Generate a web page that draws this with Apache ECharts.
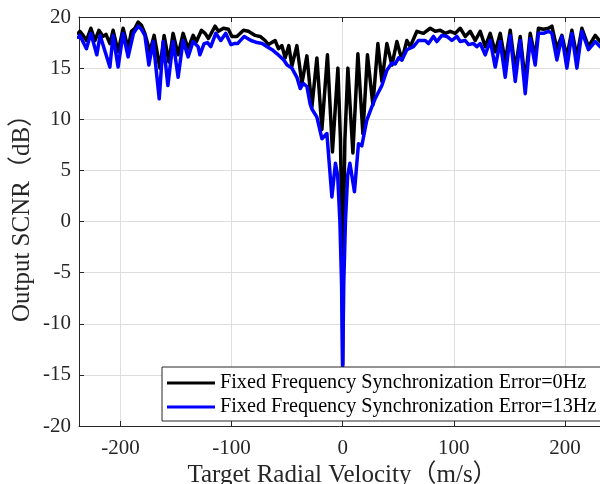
<!DOCTYPE html>
<html>
<head>
<meta charset="utf-8">
<title>Output SCNR vs Target Radial Velocity</title>
<script src="https://cdn.jsdelivr.net/npm/echarts@6/dist/echarts.min.js"></script>
<style>
  html, body { margin: 0; padding: 0; background: #ffffff; }
  #chart { width: 600px; height: 484px; }
</style>
</head>
<body>
<div id="chart"></div>
<script>
// Series labels
const seriesNames = [
  'Fixed Frequency Synchronization Error=0Hz',
  'Fixed Frequency Synchronization Error=13Hz'
];

// 0 Hz synchronization error: velocity (m/s) and output SCNR (dB)
const velocity0Hz = [
  -238, -236.5, -233.6, -230.6, -226.6, -223, -219.4, -215.6, -213, -209.5,
  -206.6, -202.1, -197.6, -193.1, -190.1, -187, -184.1, -181.1, -178, -173.5,
  -169.7, -164.5, -160.7, -156.4, -152.6, -148.1, -143.6, -139.1, -134.6, -131.6,
  -127.1, -123.8, -120.8, -114.8, -111.8, -107.3, -102.8, -99.7, -95.2, -89.3,
  -84.8, -78.8, -74.3, -69.8, -66.8, -60.8, -57.8, -54.7, -51.8, -48.5,
  -45.7, -41.2, -36.7, -32.2, -27.7, -23.2, -18.7, -13.7, -9.2, -4.3,
  -2, -0.8, 0, 0.8, 2, 4.7, 9.2, 13.7, 18.2, 22.3,
  27.2, 31.7, 35.3, 39.8, 44.3, 48.8, 53.3, 57.8, 60.8, 66.8,
  72.7, 78.8, 83.3, 87.8, 92.3, 96.8, 101.3, 105.8, 110.3, 114.8,
  119.3, 123.8, 128.3, 132.8, 137.3, 141.8, 146.3, 150.8, 155.3, 159.8,
  164.3, 168.8, 173.3, 176.2, 180.7, 185.2, 188.3, 192.8, 197.3, 201.8,
  206.3, 210.8, 215.3, 221.2, 227.3, 231.8, 234
];
const scnr0Hz = [
  18.4, 18.6, 18.2, 17.7, 18.9, 17.7, 18.7, 18.1, 18.3, 17.4,
  18.7, 16.6, 18.9, 16.9, 18.6, 18.9, 19.5, 19.2, 18.4, 16.6,
  18.2, 15.0, 18.2, 15.6, 18.4, 16.3, 18.4, 16.9, 18.2, 17.6,
  18.7, 18.4, 17.9, 19.1, 18.6, 18.9, 18.8, 18.1, 18.1, 18.7,
  18.6, 18.2, 18.1, 17.7, 17.3, 17.7, 16.9, 17.2, 16.0, 17.2,
  15.2, 17.2, 13.5, 16.2, 11.2, 16.0, 9.0, 16.3, 6.8, 15.0,
  8.0, 0.0, -14.0, 0.0, 8.0, 15.0, 6.7, 16.4, 8.6, 16.3,
  11.4, 17.4, 13.7, 17.4, 15.3, 17.6, 15.8, 17.7, 17.1, 18.6,
  18.4, 18.9, 18.6, 18.7, 18.4, 18.6, 18.4, 18.9, 18.1, 18.6,
  17.7, 18.6, 17.1, 18.4, 16.6, 18.4, 15.6, 18.7, 14.8, 18.1,
  13.7, 18.4, 16.0, 18.9, 18.8, 18.9, 19.1, 16.9, 18.2, 16.1,
  18.7, 16.1, 18.9, 17.1, 18.2, 17.6, 18.0
];

// 13 Hz synchronization error: velocity (m/s) and output SCNR (dB)
const velocity13Hz = [
  -238, -236.5, -230.6, -226.6, -221.3, -218.3, -209.5, -206.6, -202.1, -197.6,
  -193.1, -188.3, -184.1, -181.1, -178, -174.4, -170.5, -165.1, -161.5, -157.3,
  -152.6, -148.1, -143.6, -139.1, -134.6, -130.1, -128.5, -124.7, -121.7, -118.7,
  -114.2, -109.7, -105.2, -100.6, -97.6, -94.6, -88.6, -82.5, -77, -72.5,
  -68, -63.5, -59, -53, -50, -45.7, -41.2, -38.2, -35.5, -32.2,
  -29.3, -27.7, -23.2, -18.7, -14.2, -9.7, -6.5, -4.5, -2.5, -1,
  0, 1, 2.5, 4.5, 6.5, 10.6, 14.2, 17.2, 21.7, 26.2,
  29.2, 35.3, 39.8, 44.3, 47.3, 50.3, 53.3, 57.8, 63.7, 68.2,
  74.3, 77.2, 81.7, 84.7, 89.3, 93.8, 98.3, 102.8, 105.8, 110.3,
  113.3, 117.7, 120.8, 123.8, 128.3, 132.8, 137.3, 141.8, 146.3, 150.8,
  155.3, 159.8, 164.3, 168.8, 173.3, 176.2, 180.7, 185.2, 188.3, 192.8,
  197.3, 201.8, 206.3, 210.8, 215.3, 221.2, 227.3, 231.8, 234
];
const scnr13Hz = [
  18.0, 18.2, 16.9, 18.4, 16.3, 18.2, 15.1, 18.2, 15.1, 18.4,
  16.1, 18.4, 19.1, 18.8, 18.2, 15.3, 17.6, 12.0, 17.6, 13.3,
  17.6, 14.1, 17.7, 16.1, 17.6, 17.1, 16.3, 17.4, 17.5, 17.1,
  18.4, 17.7, 18.4, 17.3, 17.4, 17.4, 18.1, 17.7, 17.5, 17.4,
  17.1, 16.8, 16.4, 15.8, 15.3, 15.0, 14.1, 13.0, 13.5, 13.2,
  11.5, 11.0, 10.2, 8.1, 8.6, 2.4, 5.7, 4.5, 0.0, -6.0,
  -14.5, -6.0, 0.0, 4.5, 5.7, 2.9, 7.6, 7.4, 9.9, 11.2,
  12.0, 13.3, 14.8, 15.5, 15.4, 16.0, 15.8, 16.8, 17.1, 17.7,
  17.7, 17.4, 18.1, 17.6, 18.2, 18.1, 17.7, 18.1, 17.6, 17.7,
  17.3, 17.4, 17.1, 17.4, 16.3, 17.7, 15.1, 17.6, 14.1, 18.2,
  13.7, 17.7, 12.5, 17.9, 15.3, 18.4, 18.4, 18.6, 18.4, 15.8,
  18.1, 15.0, 18.4, 15.0, 18.6, 16.8, 17.6, 17.1, 17.5
];

// Axis ranges
const velocityRange = [-237.3, 231.6];
const scnrRange = [-20, 20];
const scnrStep = 5;

const pairs = (xs, ys) => xs.map((x, i) => [x, ys[i]]);

const serifFont = '"Liberation Serif", "DejaVu Serif", "Noto Sans CJK SC", serif';
const inkColor = '#262626';
const gridColor = '#dedede';

const chart = echarts.init(document.getElementById('chart'), null, { renderer: 'canvas' });

chart.setOption({
  animation: false,
  backgroundColor: '#ffffff',
  grid: { left: 79, right: 0, top: 17, bottom: 58, containLabel: false },
  xAxis: [
    {
      type: 'value',
      min: velocityRange[0],
      max: velocityRange[1],
      splitNumber: 5,
      axisLine: { show: true, onZero: false, lineStyle: { color: inkColor, width: 1 } },
      axisTick: { show: true, inside: true, length: 5, lineStyle: { color: inkColor } },
      axisLabel: {
        show: true,
        showMinLabel: false,
        showMaxLabel: false,
        margin: 12,
        color: inkColor,
        fontSize: 21,
        fontFamily: serifFont,
        formatter: v => (Math.abs(v % 100) < 1e-6 ? String(v) : '')
      },
      splitLine: { show: true, lineStyle: { color: gridColor, width: 1 } }
    },
    {
      type: 'value',
      position: 'top',
      min: velocityRange[0],
      max: velocityRange[1],
      splitNumber: 5,
      axisLine: { show: true, onZero: false, lineStyle: { color: inkColor, width: 1 } },
      axisTick: { show: true, inside: true, length: 5, lineStyle: { color: inkColor } },
      axisLabel: { show: false },
      splitLine: { show: false }
    }
  ],
  yAxis: {
    type: 'value',
    min: scnrRange[0],
    max: scnrRange[1],
    interval: scnrStep,
    axisLine: { show: true, onZero: false, lineStyle: { color: inkColor, width: 1 } },
    axisTick: { show: true, inside: true, length: 5, lineStyle: { color: inkColor } },
    axisLabel: {
      margin: 8,
      color: inkColor,
      fontSize: 21,
      fontFamily: serifFont
    },
    splitLine: { show: true, lineStyle: { color: gridColor, width: 1 } }
  },
  legend: {
    left: 162,
    top: 367,
    orient: 'vertical',
    padding: [4, 60, 2, 5],
    itemGap: 0,
    itemWidth: 48,
    itemHeight: 3,
    icon: 'rect',
    backgroundColor: '#ffffff',
    borderColor: inkColor,
    borderWidth: 1,
    textStyle: {
      color: '#000000',
      fontSize: 20.2,
      lineHeight: 24,
      fontFamily: serifFont
    },
    data: seriesNames
  },
  graphic: [
    {
      type: 'text',
      x: 342.5,
      y: 475,
      style: {
        text: 'Target Radial Velocity（m/s）',
        font: '25px ' + serifFont,
        fill: inkColor,
        textAlign: 'center',
        textVerticalAlign: 'middle'
      }
    },
    {
      type: 'text',
      x: 22,
      y: 212,
      rotation: Math.PI / 2,
      style: {
        text: 'Output SCNR（dB）',
        font: '25px ' + serifFont,
        fill: inkColor,
        textAlign: 'center',
        textVerticalAlign: 'middle'
      }
    }
  ],
  series: [
    {
      name: seriesNames[0],
      type: 'line',
      xAxisIndex: 0,
      data: pairs(velocity0Hz, scnr0Hz),
      showSymbol: false,
      symbol: 'none',
      lineStyle: { color: '#000000', width: 3.5, join: 'round', cap: 'round' },
      itemStyle: { color: '#000000' },
      z: 2
    },
    {
      name: seriesNames[1],
      type: 'line',
      xAxisIndex: 0,
      data: pairs(velocity13Hz, scnr13Hz),
      showSymbol: false,
      symbol: 'none',
      lineStyle: { color: '#0000ff', width: 3.5, join: 'round', cap: 'round' },
      itemStyle: { color: '#0000ff' },
      z: 3
    }
  ]
});
</script>
</body>
</html>
